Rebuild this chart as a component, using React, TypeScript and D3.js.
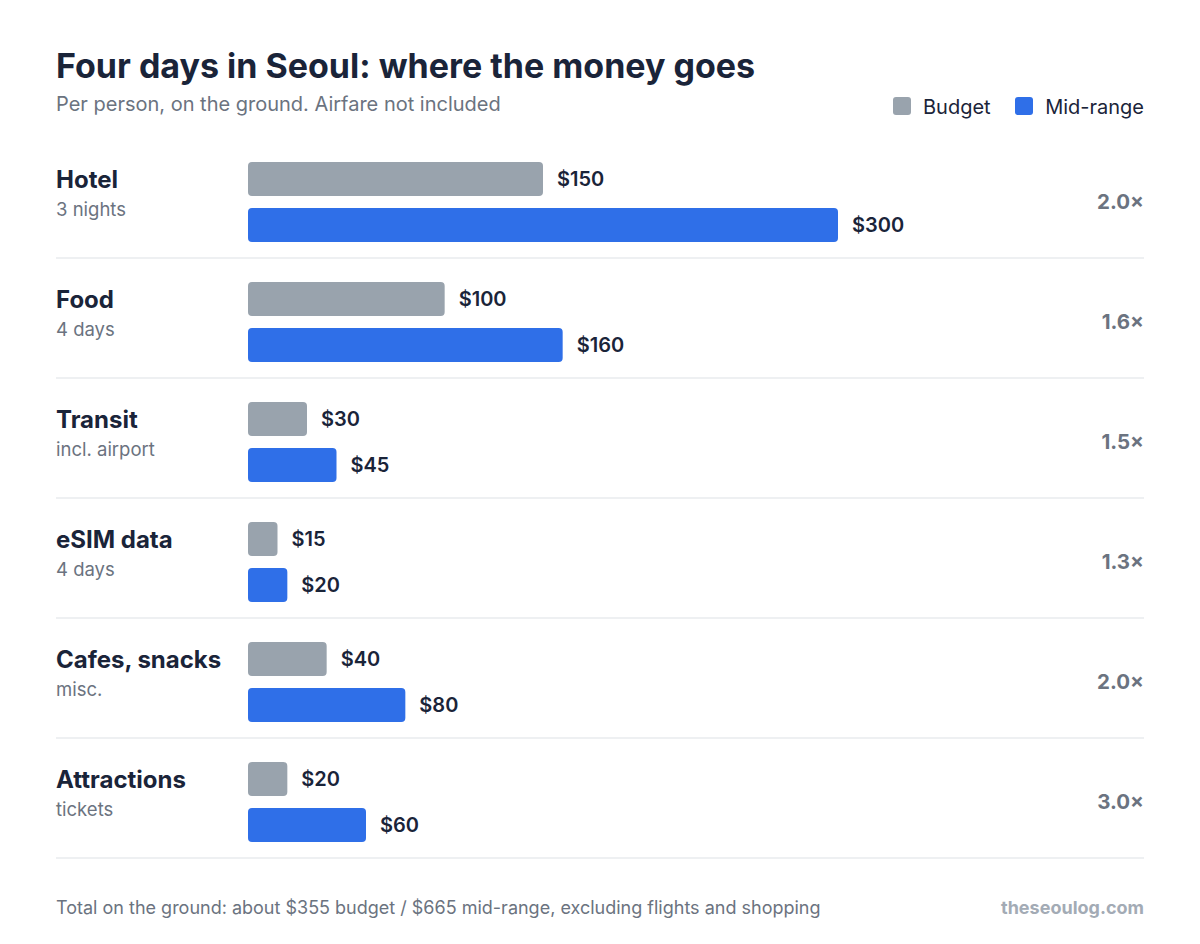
import React from "react";
import * as d3 from "d3";

const categories = ["Hotel", "Food", "Transit", "eSIM data", "Cafes, snacks", "Attractions"];
const subLabels = ["3 nights", "4 days", "incl. airport", "4 days", "misc.", "tickets"];
const budget = [150, 100, 30, 15, 40, 20];
const midRange = [300, 160, 45, 20, 80, 60];
const ratios = ["2.0×", "1.6×", "1.5×", "1.3×", "2.0×", "3.0×"];
const seriesNames = ["Budget", "Mid-range"];

const W = 1200;
const H = 944;
const FONT = "Inter, 'Noto Sans', sans-serif";
const C_BUDGET = "#99a3ad";
const C_MID = "#2f6fe8";
const C_DARK = "#1a2439";
const C_GRAY = "#6b7380";

export default function App() {
  const rowTop = 138;
  const rowH = 120;
  const x = d3.scaleLinear().domain([0, 300]).range([248, 838]);
  const y = d3.scaleBand<number>().domain(d3.range(categories.length)).range([rowTop, rowTop + rowH * categories.length]);
  const barH = 34;
  return (
    <svg width={W} height={H} style={{ position: "absolute", left: 0, top: 0, background: "#fff" }} fontFamily={FONT}>
      <text x={56} y={78} fontSize={34} fontWeight={700} fill={C_DARK}>Four days in Seoul: where the money goes</text>
      <text x={56} y={111} fontSize={20} fill={C_GRAY}>Per person, on the ground. Airfare not included</text>
      {/* legend */}
      <rect x={893} y={97} width={18} height={18} rx={3} fill={C_BUDGET} />
      <text x={923} y={114} fontSize={20} fill={C_DARK}>{seriesNames[0]}</text>
      <rect x={1015} y={97} width={18} height={18} rx={3} fill={C_MID} />
      <text x={1144} y={114} fontSize={20} fill={C_DARK} textAnchor="end">{seriesNames[1]}</text>
      {categories.map((c, i) => {
        const t = y(i)!;
        return (
          <g key={c}>
            <text x={56} y={t + 50} fontSize={24} fontWeight={700} fill={C_DARK}>{c}</text>
            <text x={56} y={t + 78} fontSize={18.5} fill={C_GRAY}>{subLabels[i]}</text>
            <rect x={x(0)} y={t + 24} width={x(budget[i]) - x(0)} height={barH} rx={4} fill={C_BUDGET} />
            <text x={x(budget[i]) + 14} y={t + 41} dy="0.35em" fontSize={20} fontWeight={600} fill={C_DARK}>${budget[i]}</text>
            <rect x={x(0)} y={t + 70} width={x(midRange[i]) - x(0)} height={barH} rx={4} fill={C_MID} />
            <text x={x(midRange[i]) + 14} y={t + 87} dy="0.35em" fontSize={20} fontWeight={600} fill={C_DARK}>${midRange[i]}</text>
            <text x={1144} y={t + 71} fontSize={20.5} fontWeight={700} fill={C_GRAY} textAnchor="end">{ratios[i]}</text>
            <line x1={56} x2={1144} y1={t + rowH} y2={t + rowH} stroke="#eef0f2" strokeWidth={2} />
          </g>
        );
      })}
      <text x={56} y={914} fontSize={18} fill={C_GRAY}>Total on the ground: about $355 budget / $665 mid-range, excluding flights and shopping</text>
      <text x={1144} y={914} fontSize={18} fontWeight={700} fill="#a3abb5" textAnchor="end">theseoulog.com</text>
    </svg>
  );
}
